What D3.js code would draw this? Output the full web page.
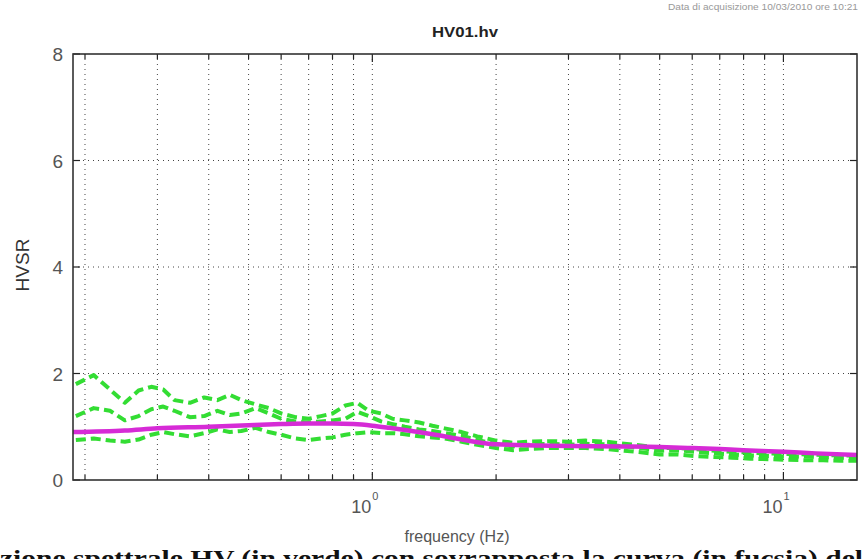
<!DOCTYPE html>
<html>
<head>
<meta charset="utf-8">
<script src="https://cdn.jsdelivr.net/npm/d3@7"></script>
<style>
  body { margin: 0; background: #fff; }
  svg { display: block; }
</style>
</head>
<body>
<svg id="chart" width="863" height="559"></svg>
<script>
// HV01.hv - HVSR curves

var freq = [0.19, 0.21, 0.23, 0.25, 0.27, 0.29, 0.31, 0.33, 0.36, 0.39, 0.42, 0.45, 0.48, 0.52, 0.56, 0.60,
    0.65, 0.70, 0.75, 0.80, 0.86, 0.92, 0.98, 1.05, 1.12, 1.2, 1.3, 1.4, 1.5, 1.65, 1.8, 2.0, 2.2, 2.4,
    2.7, 3.0, 3.3, 3.7, 4.1, 4.5, 5.0, 5.5, 6.1, 6.8, 7.5, 8.3, 9.2, 10.2, 11.3, 12.5, 13.8, 15.1];

var hvMean = [1.2, 1.35, 1.3, 1.12, 1.2, 1.33, 1.38, 1.3, 1.18, 1.2, 1.3, 1.22, 1.25, 1.35, 1.25, 1.15,
    1.1, 1.08, 1.1, 1.12, 1.15, 1.28, 1.2, 1.1, 1.05, 1.0, 0.95, 0.92, 0.88, 0.83, 0.75, 0.68, 0.63, 0.66,
    0.68, 0.66, 0.68, 0.67, 0.63, 0.6, 0.55, 0.56, 0.53, 0.5, 0.48, 0.46, 0.45, 0.44, 0.44, 0.43, 0.42, 0.42];

var hvUpper = [1.8, 1.97, 1.7, 1.45, 1.68, 1.75, 1.7, 1.5, 1.45, 1.55, 1.5, 1.6, 1.5, 1.42, 1.35, 1.25,
    1.18, 1.15, 1.2, 1.25, 1.4, 1.45, 1.3, 1.25, 1.15, 1.12, 1.08, 1.02, 0.97, 0.9, 0.82, 0.74, 0.7, 0.72,
    0.73, 0.72, 0.74, 0.72, 0.68, 0.65, 0.6, 0.6, 0.58, 0.55, 0.53, 0.51, 0.5, 0.49, 0.48, 0.47, 0.46, 0.46];

var hvLower = [0.75, 0.78, 0.74, 0.72, 0.76, 0.85, 0.9, 0.86, 0.82, 0.88, 0.95, 0.9, 0.92, 0.98, 0.9, 0.85,
    0.78, 0.75, 0.78, 0.8, 0.85, 0.88, 0.9, 0.88, 0.88, 0.86, 0.82, 0.8, 0.78, 0.72, 0.66, 0.6, 0.56, 0.58,
    0.6, 0.6, 0.6, 0.58, 0.55, 0.52, 0.48, 0.48, 0.45, 0.43, 0.42, 0.4, 0.39, 0.38, 0.37, 0.37, 0.36, 0.36];

var fitFreq = [0.187, 0.25, 0.3, 0.4, 0.5, 0.6, 0.7, 0.8, 0.9, 1.0, 1.1, 1.2, 1.4, 1.6, 1.8, 2.0, 2.5,
    3.0, 4.0, 5.0, 6.0, 7.0, 8.0, 10, 12, 15.1];
var fitHv = [0.9, 0.93, 0.97, 1.0, 1.03, 1.05, 1.06, 1.06, 1.05, 1.02, 0.98, 0.94, 0.86, 0.78, 0.71, 0.67,
    0.65, 0.64, 0.63, 0.62, 0.6, 0.58, 0.56, 0.53, 0.5, 0.47];

var gridFreqs = [0.2, 0.3, 0.4, 0.5, 0.6, 0.7, 0.8, 0.9, 1, 2, 3, 4, 5, 6, 7, 8, 9, 10];
var yTicks = [0, 2, 4, 6, 8];
var xLabels = [{ v: 1, exp: "0" }, { v: 10, exp: "1" }];

var svg = d3.select("#chart");

var pLeft = 73, pRight = 857, pTop = 54, pBottom = 480;

var x = d3.scaleLog().domain([0.187, 15.1]).range([pLeft, pRight]);
var y = d3.scaleLinear().domain([0, 8]).range([pBottom, pTop]);

// grid
svg.append("g").selectAll("line")
    .data(gridFreqs)
    .enter().append("line")
    .attr("x1", function (d) { return x(d); })
    .attr("x2", function (d) { return x(d); })
    .attr("y1", pTop)
    .attr("y2", pBottom)
    .attr("stroke", "#444")
    .attr("stroke-width", 1)
    .attr("stroke-dasharray", "1,4");

svg.append("g").selectAll("line")
    .data(yTicks.slice(1, 4))
    .enter().append("line")
    .attr("x1", pLeft)
    .attr("x2", pRight)
    .attr("y1", function (d) { return y(d); })
    .attr("y2", function (d) { return y(d); })
    .attr("stroke", "#444")
    .attr("stroke-width", 1)
    .attr("stroke-dasharray", "1,4");

// ticks (inward)
var tk = svg.append("g").attr("stroke", "#222").attr("stroke-width", 1.2);
gridFreqs.forEach(function (f) {
    var len = (f === 1 || f === 10) ? 8 : 5;
    tk.append("line").attr("x1", x(f)).attr("x2", x(f)).attr("y1", pBottom).attr("y2", pBottom - len);
    tk.append("line").attr("x1", x(f)).attr("x2", x(f)).attr("y1", pTop).attr("y2", pTop + len);
});
yTicks.forEach(function (v) {
    tk.append("line").attr("x1", pLeft).attr("x2", pLeft + 7).attr("y1", y(v)).attr("y2", y(v));
    tk.append("line").attr("x1", pRight).attr("x2", pRight - 7).attr("y1", y(v)).attr("y2", y(v));
});

// curves
var greenLine = d3.line()
    .x(function (d) { return x(d[0]); })
    .y(function (d) { return y(d[1]); });

var fitLine = d3.line()
    .x(function (d) { return x(d[0]); })
    .y(function (d) { return y(d[1]); })
    .curve(d3.curveMonotoneX);

[hvUpper, hvMean, hvLower].forEach(function (s) {
    svg.append("path")
        .datum(freq.map(function (f, i) { return [f, s[i]]; }))
        .attr("d", greenLine)
        .attr("fill", "none")
        .attr("stroke", "#33dd33")
        .attr("stroke-width", 4)
        .attr("stroke-linejoin", "round")
        .attr("stroke-dasharray", "10,5");
});

svg.append("path")
    .datum(fitFreq.map(function (f, i) { return [f, fitHv[i]]; }))
    .attr("d", fitLine)
    .attr("fill", "none")
    .attr("stroke", "#d62bd6")
    .attr("stroke-width", 4.5);

// frame
svg.append("rect")
    .attr("x", pLeft).attr("y", pTop)
    .attr("width", pRight - pLeft).attr("height", pBottom - pTop)
    .attr("fill", "none")
    .attr("stroke", "#333")
    .attr("stroke-width", 1.6);

// y labels
svg.append("g").selectAll("text")
    .data(yTicks)
    .enter().append("text")
    .attr("x", 63)
    .attr("y", function (d) { return y(d) + 7; })
    .attr("text-anchor", "end")
    .attr("font-family", "Liberation Sans, Arial, sans-serif")
    .attr("font-size", 19)
    .attr("fill", "#555")
    .text(function (d) { return d; });

// x labels
var xl = svg.append("g").selectAll("g")
    .data(xLabels)
    .enter().append("g");
xl.append("text")
    .attr("x", function (d) { return x(d.v) - 1; })
    .attr("y", 513)
    .attr("text-anchor", "end")
    .attr("font-family", "Liberation Sans, Arial, sans-serif")
    .attr("font-size", 18)
    .attr("fill", "#555")
    .text("10");
xl.append("text")
    .attr("x", function (d) { return x(d.v); })
    .attr("y", 500)
    .attr("font-family", "Liberation Sans, Arial, sans-serif")
    .attr("font-size", 11)
    .attr("fill", "#555")
    .text(function (d) { return d.exp; });

// axis titles
svg.append("text")
    .attr("transform", "translate(29,265) rotate(-90)")
    .attr("text-anchor", "middle")
    .attr("font-family", "Liberation Sans, Arial, sans-serif")
    .attr("font-size", 19)
    .attr("fill", "#333")
    .text("HVSR");

svg.append("text")
    .attr("x", 457)
    .attr("y", 542)
    .attr("text-anchor", "middle")
    .attr("font-family", "Liberation Sans, Arial, sans-serif")
    .attr("font-size", 16)
    .attr("fill", "#555")
    .text("frequency (Hz)");

svg.append("text")
    .attr("x", 465)
    .attr("y", 37)
    .attr("text-anchor", "middle")
    .attr("font-family", "Liberation Sans, Arial, sans-serif")
    .attr("font-size", 14)
    .attr("font-weight", "bold")
    .attr("fill", "#222")
    .attr("textLength", 66)
    .attr("lengthAdjust", "spacingAndGlyphs")
    .text("HV01.hv");

svg.append("text")
    .attr("x", 668)
    .attr("y", 10)
    .attr("font-family", "Liberation Sans, Arial, sans-serif")
    .attr("font-size", 9)
    .attr("fill", "#999")
    .attr("textLength", 190)
    .attr("lengthAdjust", "spacingAndGlyphs")
    .text("Data di acquisizione 10/03/2010 ore 10:21");

// caption
svg.append("text")
    .attr("x", 0)
    .attr("y", 566)
    .attr("font-family", "Liberation Serif, serif")
    .attr("font-size", 23)
    .attr("font-weight", "bold")
    .attr("fill", "#111")
    .attr("textLength", 863)
    .attr("lengthAdjust", "spacingAndGlyphs")
    .text("zione spettrale HV (in verde) con sovrapposta la curva (in fucsia) del");
</script>
</body>
</html>
